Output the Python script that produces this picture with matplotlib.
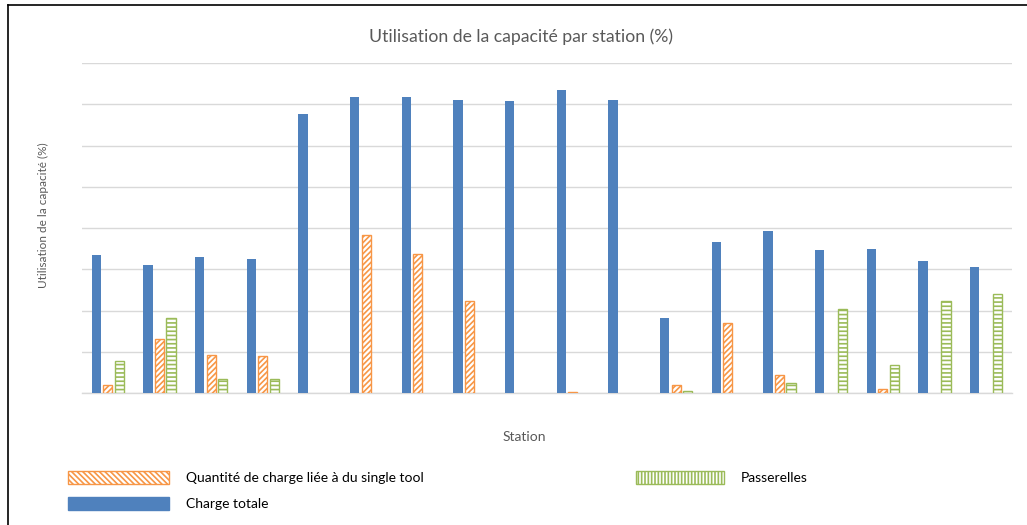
import matplotlib
matplotlib.use("Agg")
import matplotlib.pyplot as plt
from matplotlib.patches import Patch, Rectangle
from matplotlib.legend_handler import HandlerPatch
from matplotlib.lines import Line2D
import numpy as np

# ---- data (1 gridline step = 10) ----
stations = [f"S{i}" for i in range(1, 19)]
charge_totale = [33.5, 31.0, 33.0, 32.4, 67.7, 71.8, 71.8, 71.1, 70.9,
                 73.5, 71.1, 18.1, 36.6, 39.3, 34.7, 35.0, 32.1, 30.5]
single_tool = [2.0, 13.0, 9.3, 9.0, 0, 38.3, 33.6, 22.2, 0,
               0.3, 0, 2.0, 16.9, 4.4, 0, 1.0, 0, 0]
passerelles = [7.7, 18.3, 3.3, 3.3, 0, 0, 0, 0, 0,
               0, 0, 0.6, 0, 2.5, 20.3, 6.9, 22.4, 23.9]

BLUE = "#4F81BD"
ORANGE = "#F79646"
GREEN = "#9BBB59"
GRAY = "#595959"

plt.rcParams['font.family'] = ['Lato', 'DejaVu Sans']
plt.rcParams['hatch.linewidth'] = 1.2

W, H = 1027, 525
fig = plt.figure(figsize=(W / 100, H / 100), dpi=100)
ax = fig.add_axes([82 / W, (H - 393) / H, (1012 - 82) / W, (393 - 63) / H])

x = np.arange(len(stations))
bw = 0.18
step = 0.22

ax.bar(x - step, charge_totale, bw, color=BLUE, zorder=3, label="Charge totale")
for xi, v in zip(x, single_tool):
    if v > 0:
        ax.bar(xi, v, bw, facecolor="white", edgecolor=ORANGE, hatch="//////",
               linewidth=1, zorder=3)
for xi, v in zip(x, passerelles):
    if v > 0:
        ax.bar(xi + step, v, bw, facecolor="white", edgecolor=GREEN, hatch="----",
               linewidth=1, zorder=3)

ax.set_xlim(-0.5, len(stations) - 0.5)
ax.set_ylim(0, 80)
ax.set_yticks(np.arange(0, 81, 10))
ax.yaxis.grid(True, color="#D9D9D9", linewidth=1)
ax.set_axisbelow(True)
ax.tick_params(left=False, bottom=False, labelleft=False, labelbottom=False)
for s in ["top", "right", "left"]:
    ax.spines[s].set_visible(False)
ax.spines["bottom"].set_color("#D9D9D9")
ax.spines["bottom"].set_linewidth(1)

fig.text(521 / W, 1 - 37 / H, "Utilisation de la capacité par station (%)",
         ha="center", va="center", fontsize=12.7, color=GRAY)
fig.text(43 / W, 1 - 215 / H, "Utilisation de la capacité (%)", rotation=90,
         ha="center", va="center", fontsize=8.5, color=GRAY)
fig.text(524 / W, 1 - 437 / H, "Station", ha="center", va="center",
         fontsize=10, color=GRAY)


def narrow_patch(legend, orig_handle, xdescent, ydescent, width, height, fontsize):
    w = width * 0.87
    shift = width - w
    return Rectangle((-xdescent + shift, -ydescent), w, height)


# legend
h_orange = Patch(facecolor="white", edgecolor=ORANGE, hatch="\\\\\\\\\\\\", linewidth=1)
h_blue = Patch(facecolor=BLUE, edgecolor=BLUE)
h_green = Patch(facecolor="white", edgecolor=GREEN, hatch="|||||", linewidth=1)
leg = fig.legend([h_orange, h_blue, h_green],
                 ["Quantité de charge liée à du single tool", "Charge totale", "Passerelles"],
                 ncol=2, loc="upper left", bbox_to_anchor=(55 / W, 1 - 458 / H),
                 frameon=False, fontsize=10, handlelength=7.3, handleheight=1.1,
                 handletextpad=1.2, columnspacing=14.35, labelspacing=0.95,
                 handler_map={h_green: HandlerPatch(patch_func=narrow_patch)})

# outer border (top and left lines)
fig.add_artist(Line2D([8 / W, 1], [1 - 5 / H, 1 - 5 / H], color="black", linewidth=1.2))
fig.add_artist(Line2D([8 / W, 8 / W], [0, 1 - 5 / H], color="black", linewidth=1.2))

fig.savefig("out.png", dpi=100)
